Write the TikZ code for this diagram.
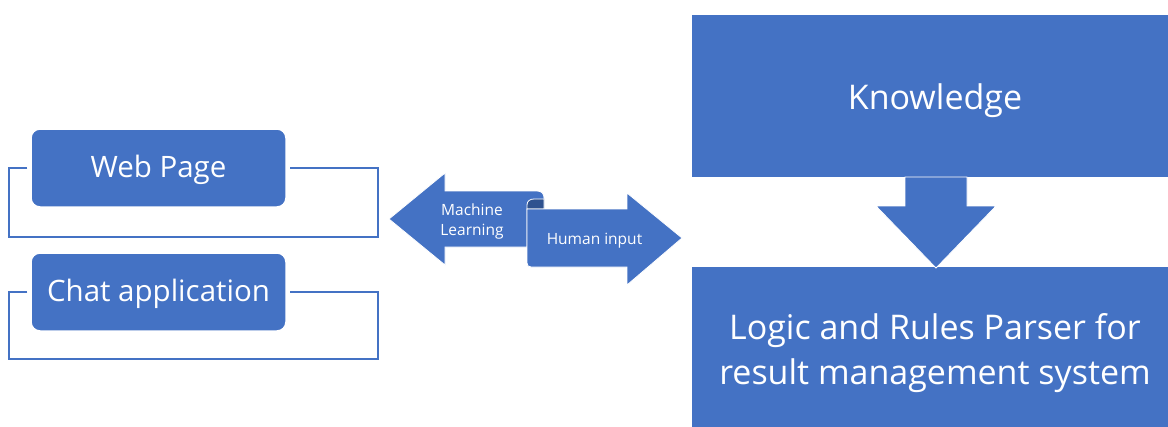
\documentclass[tikz,border=0pt]{standalone}
\usepackage{fontspec}
\setmainfont{Open Sans}
\usetikzlibrary{calc}

\definecolor{boxblue}{HTML}{4472C4}
\definecolor{rollblue}{HTML}{2F528F}

\tikzset{
  sourcebox/.style={fill=boxblue, draw=white, line width=1.5pt, text=white, rounded corners=9pt,
    minimum width=255pt, minimum height=78pt, inner sep=0pt,
    font=\fontsize{29.5}{35}\selectfont, text height=24pt, text depth=5pt},
  bigbox/.style={fill=boxblue, text=white, minimum width=486pt, inner sep=0pt,
    font=\fontsize{34}{45}\selectfont, align=center},
  frameline/.style={draw=boxblue, line width=1.6pt},
  flatarrow/.style={fill=boxblue, draw=white, line width=0.8pt},
  arrowtext/.style={text=white, inner sep=0pt, align=center, font=\fontsize{15.5}{20}\selectfont}
}

\begin{document}
\begin{tikzpicture}[x=1pt, y=-1pt]
		%%%%% START %%%%%
		\useasboundingbox (0,0) rectangle (1168,426);
		
		% input channels
		\node[sourcebox] (web) at (158.5,168) {Web Page};
		\node[sourcebox] (chat) at (158.5,292) {Chat application};
		\draw[frameline] ([xshift=-3pt]web.west) -- ++(-18,0) |- ++(369,69) -- ++(0,-69) -- ([xshift=3pt]web.east);
		\draw[frameline] ([xshift=-3pt]chat.west) -- ++(-18,0) |- ++(369,67) -- ++(0,-67) -- ([xshift=3pt]chat.east);
		
		% machine learning / human input
		\draw[flatarrow] (389,219) -- (445,173) -- (445,191) -- (537,191)
			.. controls (542,191) and (544,194) .. (544,198) -- (544,209)
			-- (527,209) -- (527,247) -- (445,247) -- (445,265) -- cycle;
		\filldraw[fill=rollblue, draw=white, line width=0.8pt] (544,199) -- (544,209) -- (527,209) -- (527,205)
			.. controls (527,201) and (530,199) .. (534,199) -- cycle;
		\draw[flatarrow] (527,209) -- (627,209) -- (627,193) -- (682,238) -- (627,285) -- (627,267)
			-- (531,267) .. controls (528.5,267) and (527,265.5) .. (527,263) -- cycle;
		\node[arrowtext] (ml) at (472,221) {Machine\\Learning};
		\node[arrowtext] (human) at (594.5,240.3) {Human input};
		
		% knowledge feeds the parser
		\node[bigbox, minimum height=162pt, text height=30pt, text depth=4pt] (know) at (935,96) {Knowledge};
		\node[bigbox, minimum height=173pt] (logic) at (935,353.5) {Logic and Rules Parser for\\result management system};
		\draw[flatarrow] (905,177) -- (967,177) -- (967,206) -- (996,206) -- (936,268) -- (876,206) -- (905,206) -- cycle;
		
		%%%%% END %%%%%
	\end{tikzpicture}
\end{document}
